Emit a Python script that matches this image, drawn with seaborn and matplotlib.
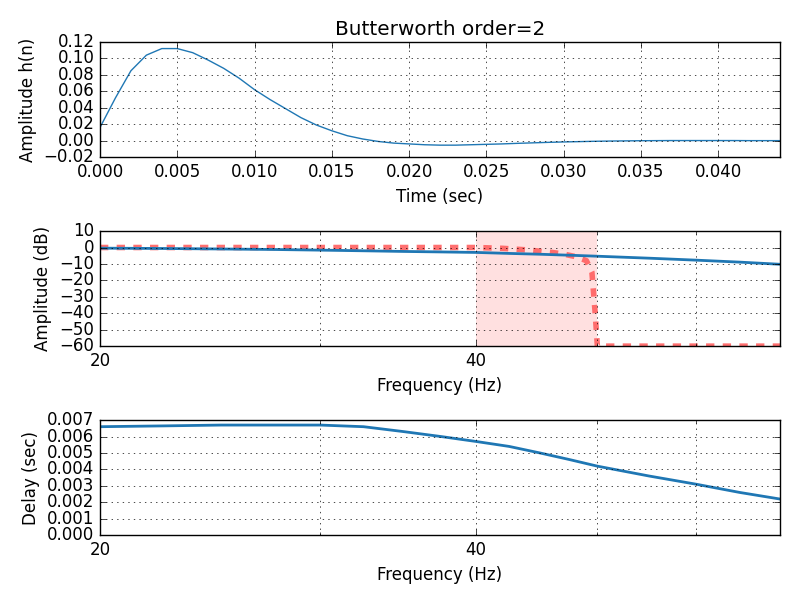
import matplotlib
matplotlib.use("Agg")
import matplotlib.pyplot as plt
import seaborn as sns
import numpy as np
import pandas as pd

t_ms = list(range(0, 45))
h_vals = [0.016, 0.052, 0.085, 0.104, 0.112, 0.112, 0.107, 0.098, 0.088, 0.076,
          0.062, 0.050, 0.039, 0.028, 0.019, 0.012, 0.006, 0.002, -0.001, -0.003,
          -0.004, -0.005, -0.0055, -0.0055, -0.005, -0.0045, -0.004, -0.0033, -0.0027, -0.0021,
          -0.0016, -0.0012, -0.0008, -0.0005, -0.0003, -0.0001, 0.0, 0.0001, 0.0001, 0.0001,
          0.0001, 0.0001, 0.0, 0.0, 0.0]

freqs = [20, 22.5, 25, 27.5, 30, 32.5, 35, 37.5, 40, 42.5, 45, 47.5, 50, 55, 60, 65, 70]
mag_db = [-0.4, -0.6, -0.9, -1.2, -1.6, -2.0, -2.4, -2.7, -3.0, -3.6, -4.1, -4.7, -5.3, -6.5, -7.7, -8.9, -10.2]
delay = [0.0066, 0.00665, 0.0067, 0.0067, 0.0067, 0.0066, 0.0063, 0.0060, 0.0057, 0.0054,
         0.0050, 0.0046, 0.0042, 0.0036, 0.0031, 0.0026, 0.0022]

spec_f = [20, 30, 40, 42, 44, 46, 47, 48, 49, 49.5, 49.8, 50, 60, 70]
spec_db = [0, 0, 0, -0.5, -1.5, -3, -4, -5.5, -8, -15, -40, -60, -60, -60]

plt.style.use("classic")
plt.rcParams.update({"figure.facecolor": "white", "font.family": "DejaVu Sans",
                     "font.size": 12, "grid.linestyle": ":", "grid.color": "black"})
blue = "#1f77b4"

fig, axes = plt.subplots(3, 1, figsize=(8, 6), dpi=100)
fig.subplots_adjust(left=0.125, right=0.975, top=0.93, bottom=0.108, hspace=0.643)

ax = axes[0]
df = pd.DataFrame({"t": np.array(t_ms) / 1000.0, "h": h_vals})
sns.lineplot(data=df, x="t", y="h", ax=ax, color=blue, linewidth=1)
ax.set_xlim(0, 0.044)
ax.set_ylim(-0.02, 0.12)
ax.set_xticks(np.arange(0, 0.0401, 0.005))
ax.set_yticks(np.arange(-0.02, 0.1201, 0.02))
ax.set_xlabel("Time (sec)")
ax.set_ylabel("Amplitude h(n)")
ax.set_title("Butterworth order=2")
ax.grid(True)

def freq_axis(ax):
    ax.set_xscale("log")
    ax.set_xlim(20, 70)
    ax.set_xticks([20, 40])
    ax.set_xticklabels(["20", "40"])
    ax.set_xticks([30, 50, 60], minor=True)
    ax.set_xticklabels([], minor=True)
    ax.grid(True, which="both")
    ax.set_xlabel("Frequency (Hz)")

ax = axes[1]
ax.axvspan(40, 50, color="red", alpha=0.12, lw=0)
sns.lineplot(x=spec_f, y=spec_db, ax=ax, color="#ff6060", linewidth=4, linestyle="--", alpha=0.9)
sns.lineplot(x=freqs, y=mag_db, ax=ax, color=blue, linewidth=2)
freq_axis(ax)
ax.set_ylim(-60, 10)
ax.set_yticks(range(-60, 11, 10))
ax.set_ylabel("Amplitude (dB)")

ax = axes[2]
sns.lineplot(x=freqs, y=delay, ax=ax, color=blue, linewidth=2)
freq_axis(ax)
ax.set_ylim(0, 0.007)
ax.set_yticks(np.arange(0, 0.00701, 0.001))
ax.set_ylabel("Delay (sec)")

fig.savefig("out.png", dpi=100)
